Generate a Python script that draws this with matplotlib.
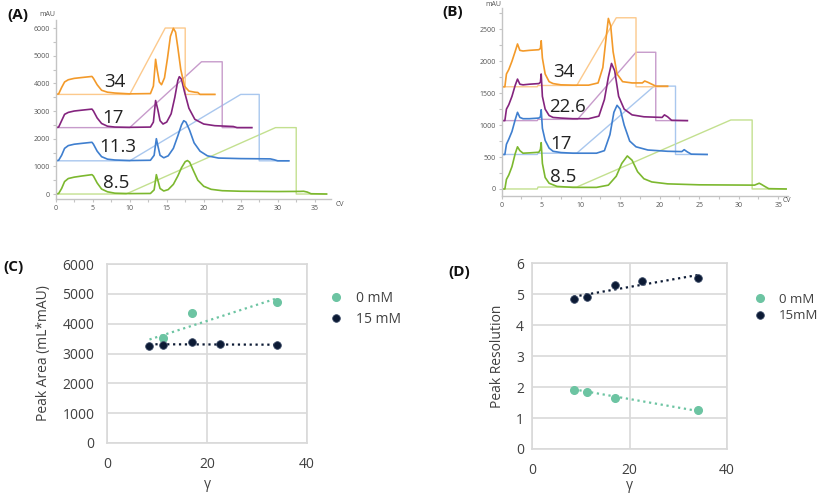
import matplotlib
matplotlib.use("Agg")
import matplotlib.pyplot as plt
from matplotlib.ticker import MultipleLocator
import numpy as np

plt.rcParams['font.family'] = ['Open Sans', 'DejaVu Sans']

# ---------------- panel A: chromatograms (CV vs mAU), 0 mM ----------------
a_green_cv = [0, 0.4, 0.8, 1.2, 1.7, 2.5, 3.5, 4.9, 5.1, 5.6, 6.2, 7, 8, 10, 12.8, 13.3, 13.6, 13.8, 14.1,
              14.6, 15.2, 15.9, 16.5, 17.0, 17.5, 17.8, 18.1, 18.6, 19.2, 20, 21, 22.5, 25, 30, 33, 33.5, 34,
              34.5, 36.6]
a_green = [0, 20, 200, 450, 560, 610, 650, 700, 650, 400, 180, 80, 30, 15, 20, 150, 700, 500, 200,
           110, 160, 350, 650, 950, 1170, 1210, 1150, 850, 500, 280, 170, 120, 100, 90, 95, 100, 70,
           10, 0]
a_blue_cv = [0, 0.4, 0.8, 1.2, 1.7, 2.5, 3.5, 4.9, 5.1, 5.6, 6.2, 7, 8, 10, 12.8, 13.3, 13.6, 13.8, 14.1,
             14.6, 15.2, 15.9, 16.5, 17.0, 17.3, 17.6, 18.1, 18.7, 19.5, 20.5, 22, 25, 29, 29.5, 30, 31.5]
a_blue = [1200, 1220, 1400, 1650, 1750, 1800, 1830, 1870, 1800, 1550, 1350, 1260, 1230, 1210, 1220, 1400,
          2000, 1750, 1400, 1310, 1380, 1650, 2100, 2500, 2650, 2600, 2300, 1850, 1550, 1380, 1300, 1280,
          1270, 1240, 1200, 1200]
a_purple_cv = [0, 0.02, 0.4, 0.8, 1.2, 1.7, 2.5, 3.5, 4.9, 5.1, 5.6, 6.2, 7, 8, 10, 12.8, 13.2, 13.5, 13.8,
               14.1, 14.5, 15.0, 15.6, 16.1, 16.5, 16.7, 17.0, 17.4, 18.0, 18.8, 20, 21.5, 24, 24.5, 26.5]
a_purple = [2850, 2400, 2420, 2650, 2880, 2950, 3000, 3030, 3070, 3000, 2750, 2550, 2450, 2420, 2410, 2420,
            2600, 3380, 3050, 2650, 2530, 2600, 2900, 3500, 4100, 4240, 4150, 3700, 3100, 2700, 2530, 2470,
            2440, 2400, 2400]
a_orange_cv = [0, 0.4, 0.8, 1.2, 1.7, 2.5, 3.5, 4.9, 5.1, 5.6, 6.2, 7, 8, 10, 12.8, 13.2, 13.5, 13.7, 14.0,
               14.3, 14.7, 15.1, 15.5, 15.9, 16.2, 16.5, 16.9, 17.4, 18.0, 18.8, 19.2, 19.5, 21.5]
a_orange = [3600, 3620, 3850, 4050, 4130, 4180, 4210, 4250, 4180, 3950, 3750, 3680, 3650, 3620, 3630, 3900,
            4870, 4500, 4050, 3950, 4200, 4900, 5700, 5990, 5850, 5300, 4500, 3900, 3720, 3680, 3670, 3600,
            3600]
# salt gradient traces (lighter colours)
a_grad_green_cv = [0, 9.5, 29.7, 32.5, 32.5, 36.6]
a_grad_green = [0, 0, 2400, 2400, 0, 0]
a_grad_blue_cv = [0, 10, 25, 27.5, 27.5, 31.5]
a_grad_blue = [1200, 1200, 3600, 3600, 1200, 1200]
a_grad_purple_cv = [0, 10, 19.7, 22.5, 22.5, 26.5]
a_grad_purple = [2400, 2400, 4780, 4780, 2400, 2400]
a_grad_orange_cv = [0, 10, 14.8, 17.5, 17.5, 21.5]
a_grad_orange = [3600, 3600, 6000, 6000, 3600, 3600]
a_labels = ["34", "17", "11.3", "8.5"]
a_label_cv = [8.0, 7.7, 8.4, 8.2]
a_label_mau = [4050, 2750, 1700, 400]

# ---------------- panel B: chromatograms, 15 mM ----------------
b_green_cv = [0, 0.02, 0.4, 0.6, 0.9, 1.3, 1.7, 2.0, 2.3, 2.7, 3.5, 4.7, 4.9, 5.0, 5.15, 5.5, 6.0, 7, 9, 12,
              13.5, 14.5, 15.2, 15.9, 16.5, 17.2, 18, 19, 21, 25, 32, 32.6, 32.9, 33.3, 33.8, 36]
b_green = [190, 0, 0, 150, 220, 350, 550, 660, 600, 560, 565, 575, 620, 725, 400, 180, 90, 40, 25, 25,
           60, 200, 400, 517, 450, 270, 160, 110, 80, 65, 60, 90, 70, 40, 5, 0]
b_blue_cv = [0, 0.02, 0.4, 0.6, 0.9, 1.3, 1.7, 2.0, 2.3, 2.7, 3.5, 4.7, 4.9, 5.0, 5.15, 5.5, 6.0, 6.5, 7.5, 9,
             12, 13.0, 13.7, 14.2, 14.6, 15.0, 15.5, 16.2, 17, 18.5, 21, 22.8, 23.1, 23.5, 24, 26]
b_blue = [350, 540, 540, 700, 780, 900, 1080, 1200, 1120, 1100, 1100, 1110, 1130, 1240, 950, 760, 640, 590,
          570, 560, 560, 600, 850, 1200, 1310, 1250, 1000, 750, 660, 610, 590, 585, 615, 580, 545, 540]
b_purple_cv = [0, 0.02, 0.4, 0.6, 0.9, 1.3, 1.7, 2.0, 2.3, 2.7, 3.5, 4.7, 4.9, 5.0, 5.15, 5.5, 6.0, 6.5, 7.5,
               9, 11, 12.3, 13.0, 13.5, 13.9, 14.3, 14.8, 15.5, 16.5, 18, 20.3, 20.6, 21.0, 21.5, 23.5]
b_purple = [870, 1070, 1070, 1250, 1320, 1450, 1620, 1720, 1640, 1630, 1640, 1650, 1670, 1800, 1450, 1250,
            1150, 1120, 1110, 1100, 1100, 1140, 1400, 1750, 1965, 1850, 1450, 1250, 1160, 1130, 1120, 1160,
            1130, 1075, 1070]
b_orange_cv = [0, 0.02, 0.4, 0.6, 0.9, 1.3, 1.7, 2.0, 2.3, 2.7, 3.5, 4.7, 4.9, 5.0, 5.15, 5.5, 6.0, 6.5, 7.5,
               9, 11, 12.2, 12.8, 13.2, 13.5, 13.8, 14.1, 14.6, 15.3, 16.5, 17.8, 18.1, 18.5, 19.0, 19.5, 21]
b_orange = [1800, 1600, 1600, 1800, 1870, 2000, 2150, 2270, 2170, 2160, 2170, 2180, 2200, 2320, 2050, 1800,
            1680, 1650, 1630, 1625, 1625, 1660, 1900, 2350, 2670, 2550, 2150, 1800, 1680, 1660, 1660, 1690,
            1670, 1640, 1610, 1610]
b_grad_green_cv = [0, 4.5, 4.6, 9.5, 29.0, 31.7, 31.7, 36]
b_grad_green = [0, 0, 30, 30, 1080, 1080, 0, 0]
b_grad_blue_cv = [0, 4.5, 4.6, 9.5, 19.3, 22.0, 22.0, 26]
b_grad_blue = [540, 540, 560, 560, 1610, 1610, 540, 540]
b_grad_purple_cv = [0, 4.5, 4.6, 9.6, 17.0, 19.5, 19.5, 23.5]
b_grad_purple = [1070, 1070, 1090, 1090, 2140, 2140, 1070, 1070]
b_grad_orange_cv = [0, 4.5, 4.6, 9.5, 14.5, 17.0, 17.0, 21]
b_grad_orange = [1600, 1600, 1620, 1620, 2680, 2680, 1600, 1600]
b_labels = ["34", "22.6", "17", "8.5"]
b_label_cv = [7.9, 8.3, 7.5, 7.8]
b_label_mau = [1830, 1280, 700, 190]

# ---------------- panel C: peak area ----------------
c_gamma_0 = [11.3, 17, 34]
c_area_0 = [3520, 4350, 4720]
c_gamma_15 = [8.5, 11.3, 17, 22.6, 34]
c_area_15 = [3250, 3290, 3390, 3310, 3270]
c_trend_x = [8.5, 34]
c_trend_0 = [3470, 4850]
c_trend_15 = [3310, 3295]

# ---------------- panel D: peak resolution ----------------
d_gamma_0 = [8.5, 11.3, 17, 34]
d_res_0 = [1.92, 1.85, 1.64, 1.25]
d_gamma_15 = [8.5, 11.3, 17, 22.6, 34]
d_res_15 = [4.85, 4.91, 5.30, 5.42, 5.53]
d_trend_x = [8.5, 34]
d_trend_0 = [1.93, 1.23]
d_trend_15 = [4.92, 5.62]

# colours
orange, orange_l = '#f39a2a', '#fcc98c'
purple, purple_l = '#84247e', '#c79bcb'
blue, blue_l = '#3f7fcf', '#a9c7ee'
green, green_l = '#7cb82f', '#c3e08f'
teal, navy = '#6cc4a2', '#0c1a34'

W, H = 817, 496
fig = plt.figure(figsize=(W / 100, H / 100), dpi=100)


def box(l, t, r, b):
    return [l / W, 1 - b / H, (r - l) / W, (b - t) / H]


def chrom_axes(ax, xmax, ylim, ymajor):
    ax.set_xlim(0, xmax)
    ax.set_ylim(*ylim)
    for s in ['top', 'right']:
        ax.spines[s].set_visible(False)
    for s in ['left', 'bottom']:
        ax.spines[s].set_color('#c4c4c4')
        ax.spines[s].set_linewidth(1.0)
    ax.xaxis.set_major_locator(MultipleLocator(5))
    ax.xaxis.set_minor_locator(MultipleLocator(2.5))
    ax.yaxis.set_major_locator(MultipleLocator(ymajor))
    ax.yaxis.set_minor_locator(MultipleLocator(ymajor / 2))
    ax.tick_params(which='both', colors='#c4c4c4', labelcolor='#555555', labelsize=5, length=2, width=0.8, pad=2)
    ax.set_xticks([t for t in ax.get_xticks() if 0 <= t <= 35])


# ---- A
axA = fig.add_axes(box(55.7, 20, 331, 199))
for cx, cy, c in [(a_grad_green_cv, a_grad_green, green_l), (a_grad_blue_cv, a_grad_blue, blue_l),
                  (a_grad_purple_cv, a_grad_purple, purple_l), (a_grad_orange_cv, a_grad_orange, orange_l)]:
    axA.plot(cx, cy, color=c, lw=1.0)
for cx, cy, c in [(a_green_cv, a_green, green), (a_blue_cv, a_blue, blue),
                  (a_purple_cv, a_purple, purple), (a_orange_cv, a_orange, orange)]:
    axA.plot(cx, cy, color=c, lw=1.2)
chrom_axes(axA, 37.2, (-180, 6290), 1000)
axA.set_yticks(range(0, 6001, 1000))
for t, x, y in zip(a_labels, a_label_cv, a_label_mau):
    axA.text(x, y, t, fontsize=13.5, color='#222222', ha='center', va='center')
fig.text(47 / W, 1 - 14 / H, 'mAU', fontsize=5, color='#555555', ha='center', va='center')
fig.text(340 / W, 1 - 205 / H, 'CV', fontsize=5, color='#555555', ha='center', va='center')

# ---- B
axB = fig.add_axes(box(501.7, 8, 787.7, 196))
for cx, cy, c in [(b_grad_green_cv, b_grad_green, green_l), (b_grad_blue_cv, b_grad_blue, blue_l),
                  (b_grad_purple_cv, b_grad_purple, purple_l), (b_grad_orange_cv, b_grad_orange, orange_l)]:
    axB.plot(cx, cy, color=c, lw=1.0)
for cx, cy, c in [(b_green_cv, b_green, green), (b_blue_cv, b_blue, blue),
                  (b_purple_cv, b_purple, purple), (b_orange_cv, b_orange, orange)]:
    axB.plot(cx, cy, color=c, lw=1.2)
chrom_axes(axB, 36.2, (-110, 2833), 500)
axB.set_yticks(range(0, 2501, 500))
for t, x, y in zip(b_labels, b_label_cv, b_label_mau):
    axB.text(x, y, t, fontsize=13.5, color='#222222', ha='center', va='center')
fig.text(493 / W, 1 - 4 / H, 'mAU', fontsize=5, color='#555555', ha='center', va='center')
fig.text(787 / W, 1 - 201 / H, 'CV', fontsize=5, color='#555555', ha='center', va='center')


# ---- C / D
def scatter_axes(ax, ylim, ystep, ylabel, ylab_x, xlab_y, ypad):
    ax.set_xlim(0, 40)
    ax.set_ylim(*ylim)
    ax.set_xticks([0, 20, 40])
    ax.set_yticks(np.arange(ylim[0], ylim[1] + ystep / 2, ystep))
    ax.grid(True, color='#d9d9d9', lw=1.2)
    ax.set_axisbelow(True)
    for s in ax.spines.values():
        s.set_color('#d9d9d9')
        s.set_linewidth(1.2)
    ax.tick_params(length=0, labelsize=10, labelcolor='#404040')
    ax.tick_params(axis='x', pad=10)
    ax.tick_params(axis='y', pad=ypad)
    ax.set_ylabel(ylabel, fontsize=10, color='#404040')
    ax.yaxis.set_label_coords(ylab_x, 0.5)
    ax.set_xlabel('γ', fontsize=10, color='#404040')
    ax.xaxis.set_label_coords(0.5, xlab_y)


axC = fig.add_axes(box(107, 264, 307, 443))
axC.plot(c_trend_x, c_trend_0, ':', color=teal, lw=1.6)
axC.plot(c_trend_x, c_trend_15, ':', color=navy, lw=1.6)
axC.plot(c_gamma_0, c_area_0, 'o', color=teal, ms=5.5, label='0 mM')
axC.plot(c_gamma_15, c_area_15, 'o', color=navy, mec='#3a4a66', mew=0.6, ms=5.5, label='15 mM')
scatter_axes(axC, (0, 6000), 1000, 'Peak Area (mL*mAU)', -0.28, -0.19, 9)
axC.legend(loc='center left', bbox_to_anchor=(317 / W, 1 - 309 / H), bbox_transform=fig.transFigure,
           frameon=False, fontsize=10, handlelength=0.9, handletextpad=1.0, labelspacing=0.45,
           labelcolor='#404040')

axD = fig.add_axes(box(532.3, 263.3, 726.7, 449))
axD.plot(d_trend_x, d_trend_0, ':', color=teal, lw=1.6)
axD.plot(d_trend_x, d_trend_15, ':', color=navy, lw=1.6)
axD.plot(d_gamma_0, d_res_0, 'o', color=teal, ms=5.5, label='0 mM')
axD.plot(d_gamma_15, d_res_15, 'o', color=navy, mec='#3a4a66', mew=0.6, ms=5.5, label='15mM')
scatter_axes(axD, (0, 6), 1, 'Peak Resolution', -0.14, -0.155, 6)
axD.legend(loc='center left', bbox_to_anchor=(742 / W, 1 - 307.5 / H), bbox_transform=fig.transFigure,
           frameon=False, fontsize=9.5, handlelength=0.9, handletextpad=1.0, labelspacing=0.3,
           labelcolor='#404040')

# panel letters
for t, x, y in [('(A)', 18, 15), ('(B)', 453, 12), ('(C)', 13, 267), ('(D)', 459, 272)]:
    fig.text(x / W, 1 - y / H, t, fontsize=11, fontweight='bold', ha='center', va='center', color='#111111')

fig.savefig('out.png', dpi=100)
